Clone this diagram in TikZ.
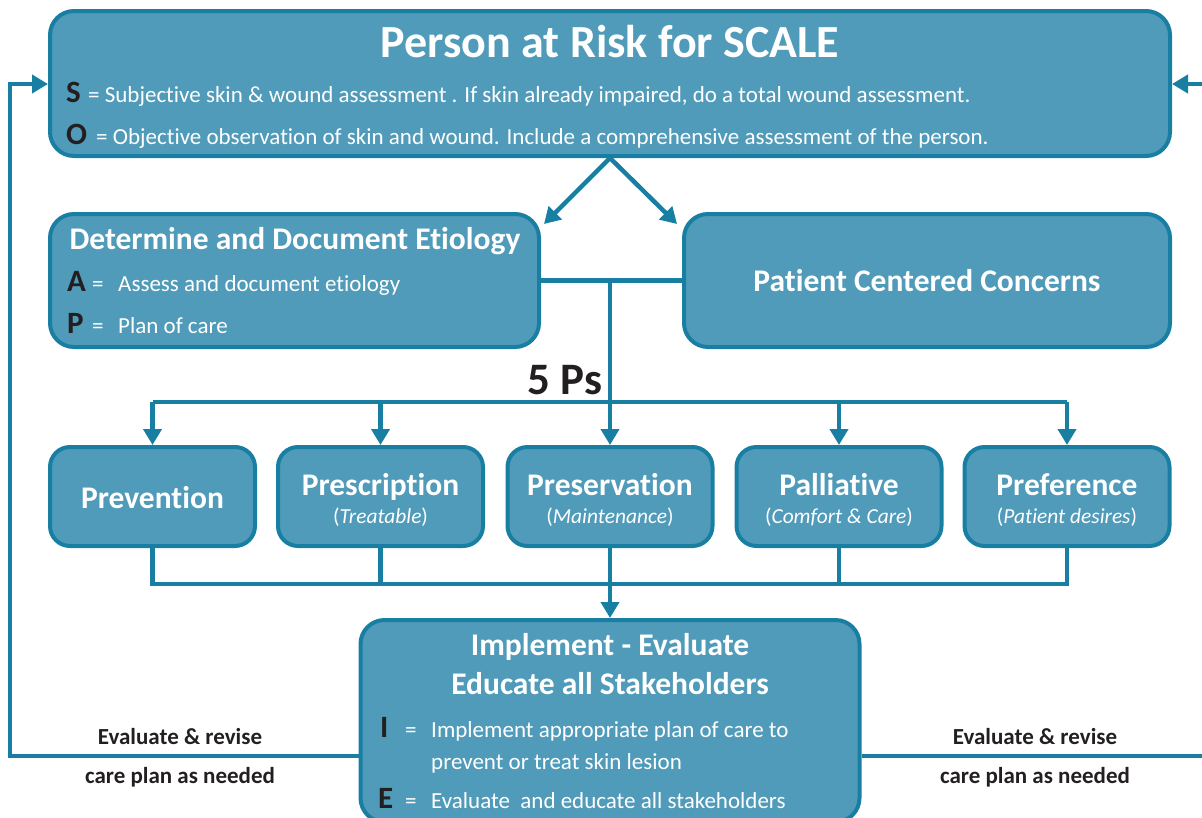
\documentclass[tikz,border=0pt]{standalone}
\usepackage{fontspec}
\setmainfont{Carlito}[Ligatures=NoCommon]
\usetikzlibrary{arrows.meta,calc}
\definecolor{boxfill}{RGB}{80,155,185}
\definecolor{boxline}{RGB}{24,127,163}
\definecolor{ink}{RGB}{35,31,32}
\tikzset{
  bigbox/.style={draw=boxline, fill=boxfill, line width=4pt, rounded corners=24pt, inner sep=0pt},
  smallbox/.style={draw=boxline, fill=boxfill, line width=4pt, rounded corners=20pt, inner sep=0pt},
  conn/.style={draw=boxline, line width=4.5pt},
  tipA/.tip={Triangle[length=16pt,width=18pt]},
  arr/.style={conn, -tipA},
  maintitle/.style={text=white, inner sep=0pt, font=\fontsize{46}{50}\selectfont\bfseries},
  headtxt/.style={text=white, inner sep=0pt, font=\fontsize{31.5}{35}\selectfont\bfseries},
  bodytxt/.style={text=white, inner sep=0pt, font=\fontsize{23}{27}\selectfont, anchor=base west},
  subtxt/.style={text=white, inner sep=0pt, font=\fontsize{21.4}{25}\selectfont},
  letter/.style={text=ink, inner sep=0pt, font=\fontsize{31}{35}\selectfont\bfseries, anchor=base west},
  fivep/.style={text=ink, inner sep=0pt, font=\fontsize{45}{50}\selectfont\bfseries},
  fblabel/.style={text=ink, inner sep=0pt, font=\fontsize{23}{27}\selectfont\bfseries, anchor=base},
}
\begin{document}
\begin{tikzpicture}[x=1pt,y=-1pt]
\useasboundingbox (0,0) rectangle (1202,817);

% ---- boxes
\node[bigbox, minimum width=1120pt, minimum height=145pt] (top) at (610,83.5) {};
\node[bigbox, minimum width=489pt, minimum height=133pt] (etio) at (294.5,280.5) {};
\node[bigbox, minimum width=486pt, minimum height=133pt, headtxt] (pcc) at (927,280.5) {Patient Centered Concerns};

\node[smallbox, minimum width=205pt, minimum height=99pt] (prev) at (152.5,496.5) {};
\node[smallbox, minimum width=205pt, minimum height=99pt] (presc) at (380.5,496.5) {};
\node[smallbox, minimum width=205pt, minimum height=99pt] (pres) at (610,496.5) {};
\node[smallbox, minimum width=205pt, minimum height=99pt] (pall) at (839,496.5) {};
\node[smallbox, minimum width=205pt, minimum height=99pt] (pref) at (1067,496.5) {};

\node[bigbox, minimum width=499pt, minimum height=202pt] (impl) at (610,721) {};

% ---- coordinates
\coordinate (bar) at (0,402);
\coordinate (bot) at (0,584);
\coordinate (fb) at (0,756);
\coordinate (fbL) at (10,756);
\coordinate (fbLtop) at (10,84);
\coordinate (fbR) at (1215,756);
\coordinate (fbRtop) at (1215,84);
\coordinate (split) at (610,280.5);
\coordinate (tipL) at ($(etio.north east)+(3,12)$);
\coordinate (tipR) at ($(pcc.north west)+(-5,12)$);

% ---- connectors
\draw[conn, tipA-tipA, line join=miter] (tipL) -- (top.south) -- (tipR);
\draw[conn] (etio.east) -- (pcc.west);
\draw[conn] (split) -- (split |- bar);
\draw[conn] (prev.north |- bar) -- (pref.north |- bar);
\foreach \n in {prev,presc,pres,pall,pref}{
  \draw[arr] (\n.north |- bar) -- (\n.north);
}
\draw[conn, line join=miter] (prev.south) -- (prev.south |- bot) -- (pref.south |- bot) -- (pref.south);
\foreach \n in {presc,pres,pall}{
  \draw[conn] (\n.south) -- (\n.south |- bot);
}
\draw[arr] (pres.south |- bot) -- (impl.north);
\draw[arr, line join=miter] (impl.west |- fb) -- (fbL) -- (fbLtop) -- (top.west |- fbLtop);
\draw[conn] (impl.east |- fb) -- (fbR);
\draw[arr] (fbRtop) -- (top.east |- fbRtop);

% ---- texts top box
\node[maintitle, anchor=base] (ttl) at (610,57) {Person at Risk for SCALE};
\node[letter] (sL) at (66,102) {S};
\node[bodytxt] (sT) at (88,102) {= Subjective skin \& wound assessment . If skin already impaired, do a total wound assessment.};
\node[letter] (oL) at (66,144) {O};
\node[bodytxt] (oT) at (96,144) {= Objective observation of skin and wound. Include a comprehensive assessment of the person.};

% ---- etiology
\node[headtxt, anchor=base] (etT) at (295,249) {Determine and Document Etiology};
\node[letter] (aL) at (67,291) {A};
\node[bodytxt] (aE) at (92,291) {=};
\node[bodytxt] (aT) at (118,291) {Assess and document etiology};
\node[letter] (pL) at (67,333) {P};
\node[bodytxt] (pE) at (92,333) {=};
\node[bodytxt] (pT) at (118,333) {Plan of care};

% ---- 5 Ps
\node[fivep, anchor=base] (fiveP) at (565,394) {5 Ps};
\node[headtxt, anchor=base] (prevT) at (152.5,508) {Prevention};
\node[headtxt, anchor=base] (prescT) at (380.5,495) {Prescription};
\node[subtxt, anchor=base] (prescS) at (380.5,523) {(\textit{Treatable})};
\node[headtxt, anchor=base] (presT) at (610,495) {Preservation};
\node[subtxt, anchor=base] (presS) at (610,523) {(\textit{Maintenance})};
\node[headtxt, anchor=base] (pallT) at (839,495) {Palliative};
\node[subtxt, anchor=base] (pallS) at (839,523) {(\textit{Comfort \& Care})};
\node[headtxt, anchor=base] (prefT) at (1067,495) {Preference};
\node[subtxt, anchor=base] (prefS) at (1067,523) {(\textit{Patient desires})};

% ---- implement
\node[headtxt, anchor=base] (imT1) at (610,655) {Implement - Evaluate};
\node[headtxt, anchor=base] (imT2) at (610,694) {Educate all Stakeholders};
\node[letter] (iL) at (380,737) {I};
\node[bodytxt] (iE) at (405,737) {=};
\node[bodytxt] (iT1) at (431,737) {Implement appropriate plan of care to};
\node[bodytxt] (iT2) at (431,769) {prevent or treat skin lesion};
\node[letter] (eL) at (378,808) {E};
\node[bodytxt] (eE) at (405,808) {=};
\node[bodytxt] (eT) at (431,808) {Evaluate\ \ and educate all stakeholders};

% ---- feedback labels
\node[fblabel] (lbL1) at (180,744) {Evaluate \& revise};
\node[fblabel] (lbL2) at (180,783) {care plan as needed};
\node[fblabel] (lbR1) at (1035,744) {Evaluate \& revise};
\node[fblabel] (lbR2) at (1035,783) {care plan as needed};
\end{tikzpicture}
\end{document}
